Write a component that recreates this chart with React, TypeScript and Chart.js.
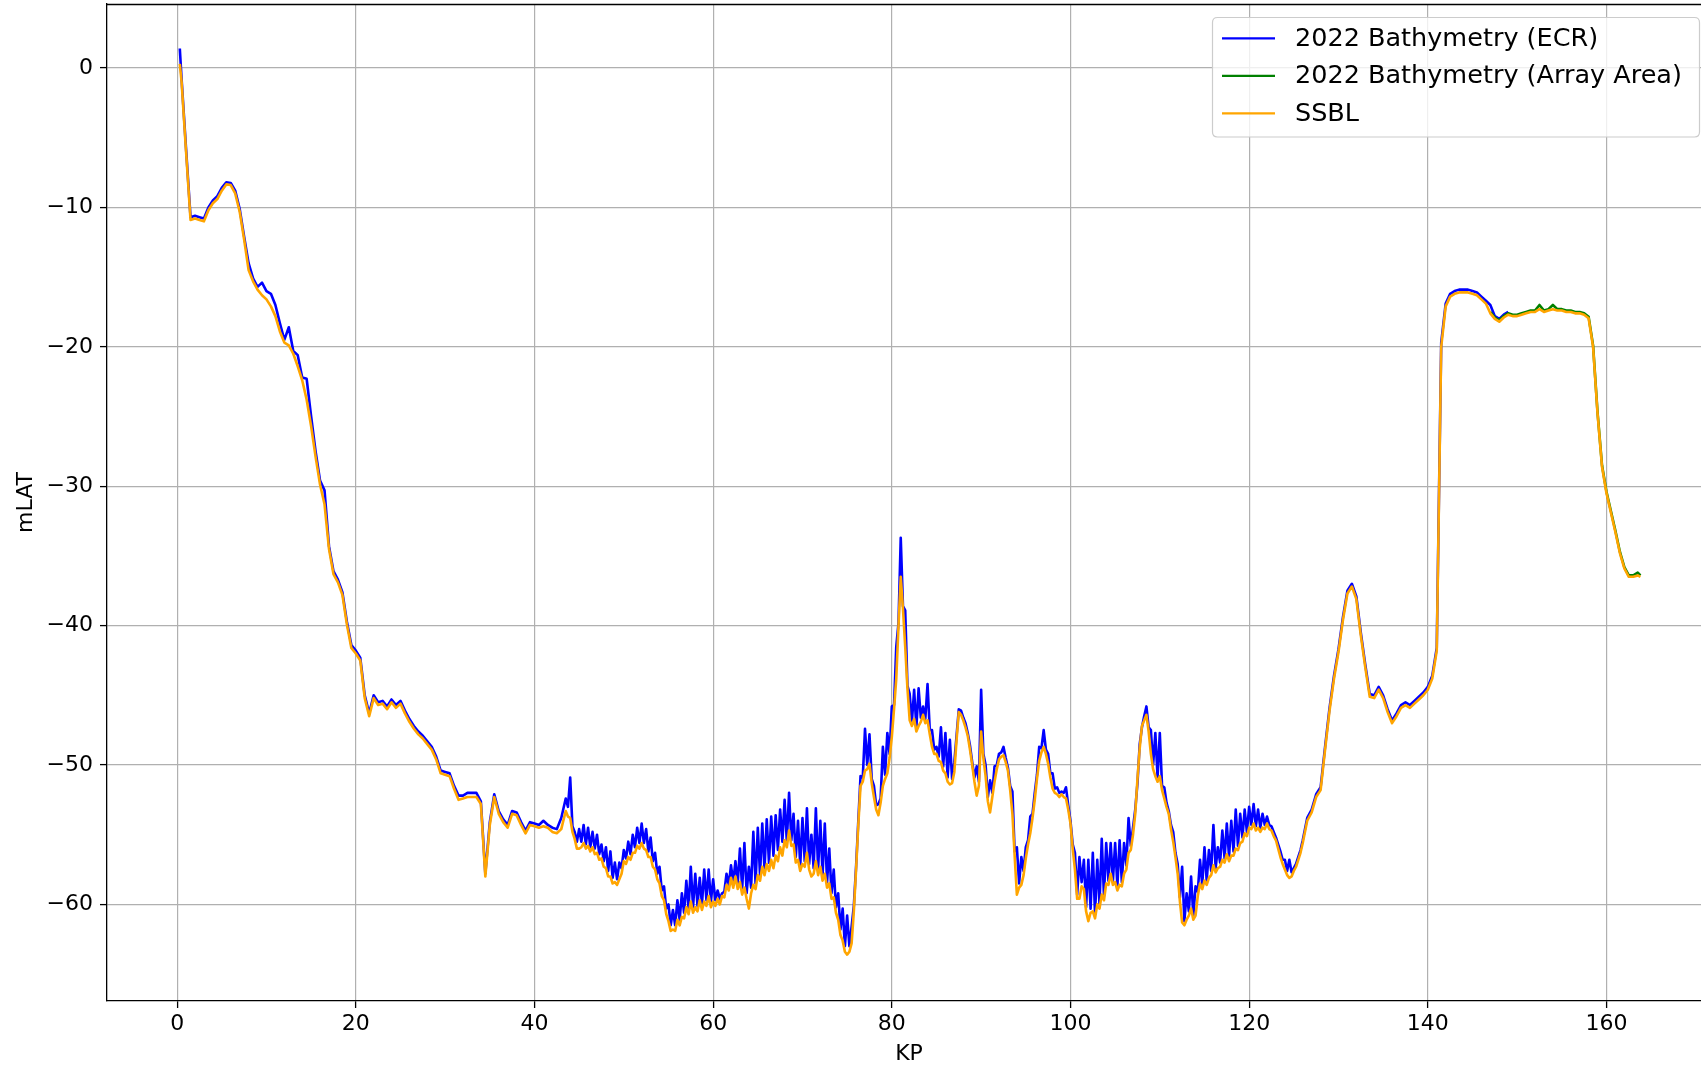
import React, { useEffect, useRef } from "react";
import { Chart, registerables } from "chart.js";

Chart.register(...registerables);

// KP sample positions (km)
const kp = [
  0.3, 0.5, 1, 1.5, 2, 2.5, 3, 3.5, 4, 4.5, 5,
  5.5, 6, 6.5, 7, 7.5, 8, 8.5, 9, 9.5, 10,
  10.5, 11, 11.5, 12, 12.5, 13, 13.5, 14, 14.5, 15,
  15.5, 16, 16.5, 17, 17.5, 18, 18.5, 19, 19.5, 20,
  20.5, 21, 21.5, 22, 22.5, 23, 23.5, 24, 24.5, 25,
  25.5, 26, 26.5, 27, 27.5, 28, 28.5, 29, 29.5, 30,
  30.5, 31, 31.5, 32, 32.5, 33, 33.5, 34, 34.5, 35,
  35.5, 36, 36.5, 37, 37.5, 38, 38.5, 39, 39.5, 40,
  40.5, 41, 41.5, 42, 42.5, 43, 43.5,
  43.75, 44,
  44.25, 44.5, 44.75, 45, 45.25, 45.5, 45.75, 46,
  46.25, 46.5, 46.75, 47, 47.25, 47.5, 47.75, 48,
  48.25, 48.5, 48.75, 49, 49.25, 49.5, 49.75, 50,
  50.25, 50.5, 50.75, 51, 51.25, 51.5, 51.75, 52,
  52.25, 52.5, 52.75, 53, 53.25, 53.5, 53.75, 54,
  54.25, 54.5, 54.75, 55, 55.25, 55.5, 55.75, 56,
  56.25, 56.5, 56.75, 57, 57.25, 57.5, 57.75, 58,
  58.25, 58.5, 58.75, 59, 59.25, 59.5, 59.75, 60,
  60.25, 60.5, 60.75, 61, 61.25, 61.5, 61.75, 62,
  62.25, 62.5, 62.75, 63, 63.25, 63.5, 63.75, 64,
  64.25, 64.5, 64.75, 65, 65.25, 65.5, 65.75, 66,
  66.25, 66.5, 66.75, 67, 67.25, 67.5, 67.75, 68,
  68.25, 68.5, 68.75, 69, 69.25, 69.5, 69.75, 70,
  70.25, 70.5, 70.75, 71, 71.25, 71.5, 71.75, 72,
  72.25, 72.5, 72.75, 73, 73.25, 73.5, 73.75, 74,
  74.25, 74.5, 74.75, 75, 75.25, 75.5, 75.75, 76,
  76.25, 76.5, 76.75, 77, 77.25, 77.5, 77.75, 78,
  78.25, 78.5, 78.75, 79, 79.25, 79.5, 79.75, 80,
  80.25, 80.5, 80.75, 81, 81.25, 81.5, 81.75, 82,
  82.25, 82.5, 82.75, 83, 83.25, 83.5, 83.75, 84,
  84.25, 84.5, 84.75, 85, 85.25, 85.5, 85.75, 86,
  86.25, 86.5, 86.75, 87, 87.25, 87.5, 87.75, 88,
  88.25, 88.5, 88.75, 89, 89.25, 89.5, 89.75, 90,
  90.25, 90.5, 90.75, 91, 91.25, 91.5, 91.75, 92,
  92.25, 92.5, 92.75, 93, 93.25, 93.5, 93.75, 94,
  94.25, 94.5, 94.75, 95, 95.25, 95.5, 95.75, 96,
  96.25, 96.5, 96.75, 97, 97.25, 97.5, 97.75, 98,
  98.25, 98.5, 98.75, 99, 99.25, 99.5, 99.75, 100,
  100.25, 100.5, 100.75, 101, 101.25, 101.5, 101.75, 102,
  102.25, 102.5, 102.75, 103, 103.25, 103.5, 103.75, 104,
  104.25, 104.5, 104.75, 105, 105.25, 105.5, 105.75, 106,
  106.25, 106.5, 106.75, 107, 107.25, 107.5, 107.75, 108,
  108.25, 108.5, 108.75, 109, 109.25, 109.5, 109.75, 110,
  110.25, 110.5, 110.75, 111, 111.25, 111.5, 111.75, 112,
  112.25, 112.5, 112.75, 113, 113.25, 113.5, 113.75, 114,
  114.25, 114.5, 114.75, 115, 115.25, 115.5, 115.75, 116,
  116.25, 116.5, 116.75, 117, 117.25, 117.5, 117.75, 118,
  118.25, 118.5, 118.75, 119, 119.25, 119.5, 119.75, 120,
  120.25, 120.5, 120.75, 121, 121.25, 121.5, 121.75, 122,
  122.25, 122.5, 122.75, 123, 123.25, 123.5, 123.75, 124,
  124.25, 124.5, 124.75, 125, 125.25, 125.5, 125.75, 126,
  126.5, 127, 127.5, 128, 128.5, 129, 129.5, 130,
  130.5, 131, 131.5, 132, 132.5, 133, 133.5, 134, 134.5, 135,
  135.5, 136, 136.5, 137, 137.5, 138, 138.5, 139, 139.5, 140,
  140.5, 141, 141.5, 142, 142.5, 143, 143.5, 144, 144.5, 145,
  145.5, 146, 146.5, 147, 147.5, 148, 148.5, 149, 149.5, 150,
  150.5, 151, 151.5, 152, 152.5, 153, 153.5, 154, 154.5, 155,
  155.5, 156, 156.5, 157, 157.5, 158, 158.5, 159, 159.5, 160,
  160.5, 161, 161.5, 162, 162.5, 163, 163.5, 163.8,
];

// 2022 Bathymetry (ECR), mLAT, KP 0.3 .. 149
const ecr = [
  1.4, -0.8, -5.8, -10.7, -10.6, -10.7, -10.8, -10.0, -9.5, -9.2, -8.6,
  -8.2, -8.25, -8.8, -10.1, -12.1, -14.0, -15.1, -15.7, -15.4, -16.0,
  -16.2, -17.0, -18.3, -19.5, -18.6, -20.3, -20.6, -22.2, -22.3, -25.0,
  -27.5, -29.6, -30.3, -34.3, -36.1, -36.7, -37.6, -39.7, -41.4, -41.8,
  -42.3, -45.0, -46.3, -45.0, -45.5, -45.4, -45.8, -45.3, -45.7, -45.4,
  -46.1, -46.7, -47.2, -47.6, -47.9, -48.3, -48.7, -49.4, -50.4, -50.5,
  -50.6, -51.5, -52.2, -52.2, -52.0, -52.0, -52.0, -52.6, -57.8, -54.1,
  -52.1, -53.3, -53.9, -54.3, -53.3, -53.4, -54.1, -54.7, -54.1, -54.2,
  -54.3, -54.0, -54.3, -54.5, -54.6, -53.8, -52.4,
  -53.0, -50.9,
  -54.4, -54.8, -55.5, -54.6, -55.5, -54.3, -55.7, -54.5,
  -55.9, -54.8, -56.0, -55.0, -56.4, -55.7, -56.9, -55.9,
  -57.6, -56.2, -58.1, -57.0, -58.2, -57.0, -57.4, -56.1,
  -56.7, -55.5, -56.4, -55.0, -55.9, -54.5, -55.6, -54.2,
  -55.6, -54.6, -56.2, -55.2, -56.9, -56.3, -57.8, -57.3,
  -59.0, -58.7, -60.3, -60.0, -61.5, -60.4, -61.5, -59.7,
  -61.1, -59.2, -60.6, -58.3, -60.3, -57.3, -60.2, -57.8,
  -60.1, -58.1, -60.0, -57.5, -59.7, -57.5, -59.8, -58.2,
  -59.7, -59.0, -59.6, -59.2, -59.1, -57.8, -58.6, -57.2,
  -58.4, -56.9, -58.5, -56.0, -58.9, -55.6, -59.2, -57.3,
  -58.8, -54.8, -58.5, -54.5, -57.9, -54.2, -57.5, -53.9,
  -57.0, -53.7, -56.5, -53.6, -56.1, -53.2, -55.5, -52.5,
  -55.5, -52.0, -55.4, -53.5, -56.6, -54.0, -57.2, -53.8,
  -56.9, -53.1, -57.1, -55.0, -57.4, -53.1, -57.5, -54.0,
  -57.9, -54.2, -58.4, -56.0, -59.2, -57.5, -60.2, -59.2,
  -61.8, -60.3, -63.0, -60.8, -63.0, -61.6, -60.1, -57.3,
  -54.0, -50.8, -50.9, -47.4, -50.0, -47.8, -51.0, -51.5,
  -52.9, -52.8, -52.4, -48.7, -50.7, -47.7, -49.2, -45.8,
  -45.7, -41.5, -39.8, -33.7, -38.6, -38.9, -44.3, -44.9,
  -46.9, -44.6, -47.3, -44.5, -46.6, -45.8, -46.7, -44.2,
  -47.5, -47.5, -48.9, -48.7, -49.4, -47.3, -50.1, -47.7,
  -50.9, -48.2, -51.0, -49.8, -47.9, -46.0, -46.1, -46.6,
  -47.0, -47.7, -48.6, -49.8, -50.9, -50.1, -51.2, -44.6,
  -49.2, -50.0, -52.3, -51.1, -52.0, -50.1, -50.0, -49.2,
  -49.1, -48.7, -49.5, -50.2, -51.5, -51.9, -56.2, -55.9,
  -58.5, -56.6, -57.6, -55.9, -55.4, -53.7, -53.5, -52.0,
  -50.7, -48.7, -48.8, -47.5, -48.9, -49.2, -50.6, -50.6,
  -51.7, -51.6, -52.0, -51.9, -52.0, -51.6, -52.9, -54.0,
  -55.7, -56.3, -59.3, -56.6, -58.4, -56.8, -60.2, -56.8,
  -60.3, -56.3, -60.7, -56.8, -60.0, -55.3, -59.4, -55.6,
  -58.3, -55.6, -58.3, -55.6, -58.7, -55.4, -58.4, -55.6,
  -57.2, -53.8, -55.8, -54.5, -53.2, -51.3, -48.5, -47.3,
  -46.5, -45.8, -47.3, -47.5, -50.0, -47.7, -50.9, -47.7,
  -51.5, -51.6, -52.7, -53.3, -54.3, -54.8, -56.3, -57.1,
  -59.5, -57.3, -61.2, -59.2, -60.5, -58.0, -60.8, -58.7,
  -59.1, -56.8, -58.6, -55.9, -58.3, -56.1, -57.6, -54.3,
  -57.4, -55.9, -57.0, -54.7, -56.7, -54.2, -56.6, -54.0,
  -56.2, -53.2, -55.8, -53.5, -55.2, -53.2, -54.8, -53.0,
  -54.3, -52.8, -54.4, -53.2, -54.5, -53.5, -54.3, -53.7,
  -54.3, -54.4, -54.8, -55.2, -55.7, -56.2, -56.8, -56.8,
  -57.6, -56.8, -57.7, -57.4, -57.1, -56.6, -56.1, -55.4,
  -53.8, -53.2, -52.1, -51.6, -48.7, -45.9, -43.6, -41.7,
  -39.4, -37.5, -37.0, -37.9, -40.5, -42.8, -44.9, -45.0, -44.4, -45.0,
  -46.0, -46.8, -46.3, -45.7, -45.5, -45.7, -45.4, -45.1, -44.8, -44.4,
  -43.6, -41.6, -19.7, -16.9, -16.2, -16.0, -15.9, -15.9, -15.9, -16.0,
  -16.1, -16.4, -16.7, -17.0, -17.8, -18.0, -17.7, -17.5,
];

// 2022 Bathymetry (Array Area), mLAT, KP 147 .. 163.8
const arrayStartKp = 147;
const arrayArea = [
  -17.5, -17.9, -18.1, -17.8, -17.6, -17.7, -17.7,
  -17.6, -17.5, -17.4, -17.4, -17.0, -17.4, -17.3, -17.0, -17.3, -17.3,
  -17.4, -17.4, -17.5, -17.5, -17.6, -17.85, -19.9, -24.7, -28.5, -30.4,
  -31.8, -33.2, -34.7, -35.8, -36.4, -36.4, -36.2, -36.4,
];

// SSBL, mLAT, KP 0.3 .. 163.8
const ssbl = [
  0.3, -1.0, -6.0, -10.9, -10.8, -10.9, -11.0, -10.2, -9.7, -9.4, -8.8,
  -8.35, -8.4, -9.0, -10.3, -12.3, -14.5, -15.3, -15.9, -16.3, -16.6,
  -17.1, -17.8, -18.9, -19.7, -19.9, -20.5, -21.4, -22.4, -23.8, -25.7,
  -27.9, -29.9, -31.3, -34.5, -36.3, -36.9, -37.8, -39.9, -41.6, -42.0,
  -42.5, -45.2, -46.5, -45.2, -45.7, -45.6, -46.0, -45.5, -45.9, -45.6,
  -46.3, -46.9, -47.4, -47.8, -48.1, -48.5, -48.9, -49.6, -50.6, -50.7,
  -50.8, -51.7, -52.5, -52.4, -52.3, -52.3, -52.3, -52.8, -58.0, -54.3,
  -52.3, -53.5, -54.1, -54.5, -53.5, -53.6, -54.3, -54.9, -54.3, -54.4,
  -54.5, -54.4, -54.5, -54.8, -54.9, -54.6, -53.3,
  -53.7, -53.8,
  -54.8, -55.3, -56.0, -56.0, -55.9, -55.6, -56.0, -55.8,
  -56.2, -55.9, -56.4, -56.3, -56.8, -56.7, -57.3, -57.4,
  -58.0, -58.0, -58.5, -58.4, -58.6, -58.2, -57.8, -56.9,
  -57.1, -56.6, -56.8, -56.3, -56.3, -55.8, -56.0, -55.6,
  -56.0, -56.1, -56.6, -56.6, -57.3, -57.5, -58.2, -58.5,
  -59.4, -59.7, -60.7, -61.2, -61.9, -61.8, -61.9, -61.1,
  -61.5, -60.9, -61.0, -60.2, -60.7, -59.8, -60.6, -60.2,
  -60.5, -59.7, -60.4, -59.8, -60.1, -59.4, -60.2, -59.8,
  -60.1, -59.6, -60.0, -59.4, -59.5, -58.6, -59.0, -58.1,
  -58.8, -58.0, -58.9, -58.4, -59.3, -58.8, -59.6, -60.3,
  -59.2, -58.6, -58.9, -57.9, -58.3, -57.3, -57.9, -57.1,
  -57.6, -56.8, -57.4, -56.5, -56.9, -55.9, -56.5, -55.4,
  -55.9, -54.7, -55.8, -55.7, -57.0, -56.8, -57.6, -57.1,
  -57.3, -56.3, -57.5, -58.0, -57.8, -56.9, -57.9, -57.3,
  -58.3, -57.8, -58.8, -58.5, -59.6, -59.5, -60.6, -61.1,
  -62.2, -62.6, -63.4, -63.6, -63.4, -62.8, -60.5, -57.5,
  -54.3, -51.5, -51.2, -50.4, -50.3, -49.9, -51.3, -52.3,
  -53.2, -53.6, -52.7, -51.5, -51.0, -50.6, -49.5, -48.0,
  -46.0, -43.8, -40.0, -36.5, -38.8, -41.5, -44.5, -46.8,
  -47.2, -46.7, -47.6, -47.2, -46.9, -46.4, -47.0, -46.8,
  -47.8, -48.7, -49.2, -49.2, -49.7, -49.8, -50.4, -50.6,
  -51.2, -51.4, -51.3, -50.5, -48.2, -46.2, -46.4, -46.8,
  -47.3, -47.9, -48.9, -50.0, -51.2, -52.2, -51.5, -47.6,
  -49.5, -50.8, -52.6, -53.4, -52.3, -51.2, -50.3, -49.6,
  -49.4, -49.3, -49.8, -50.4, -51.8, -53.5, -56.5, -59.3,
  -58.8, -58.6, -57.9, -56.7, -55.7, -54.9, -53.8, -52.5,
  -51.0, -49.7, -49.1, -48.7, -49.2, -49.9, -50.9, -51.7,
  -52.0, -52.1, -52.3, -52.1, -52.3, -52.4, -53.2, -54.2,
  -56.0, -57.5, -59.6, -59.6, -58.7, -58.9, -60.5, -61.2,
  -60.6, -60.5, -61.0, -60.0, -60.3, -59.3, -59.7, -58.5,
  -58.6, -57.8, -58.6, -58.4, -59.0, -58.6, -58.7, -57.8,
  -57.5, -56.3, -56.1, -55.0, -53.5, -51.0, -48.8, -47.2,
  -46.8, -46.4, -47.6, -49.2, -50.3, -50.8, -51.2, -50.8,
  -51.8, -52.4, -53.0, -53.5, -54.6, -55.5, -56.6, -57.8,
  -59.8, -61.3, -61.5, -61.1, -60.8, -60.3, -61.1, -60.8,
  -59.4, -58.5, -58.9, -58.3, -58.6, -58.1, -57.9, -57.2,
  -57.7, -57.4, -57.3, -56.8, -57.0, -56.4, -56.9, -56.5,
  -56.5, -56.0, -56.1, -55.6, -55.5, -54.9, -55.1, -54.5,
  -54.6, -54.2, -54.7, -54.5, -54.8, -54.5, -54.6, -54.2,
  -54.6, -54.7, -55.1, -55.4, -56.0, -56.6, -57.1, -57.5,
  -57.9, -58.1, -58.0, -57.6, -57.3, -56.8, -56.3, -55.6,
  -54.0, -53.4, -52.3, -51.8, -48.9, -46.1, -43.8, -41.9,
  -39.6, -37.7, -37.2, -38.1, -40.7, -43.0, -45.1, -45.2, -44.6, -45.2,
  -46.2, -47.0, -46.5, -45.9, -45.7, -45.9, -45.6, -45.3, -45.0, -44.6,
  -43.8, -41.8, -20.0, -17.1, -16.4, -16.2, -16.1, -16.1, -16.1, -16.2,
  -16.3, -16.6, -16.9, -17.6, -18.0, -18.2, -17.9, -17.7, -17.8, -17.8,
  -17.7, -17.6, -17.5, -17.5, -17.3, -17.5, -17.4, -17.3, -17.4, -17.4,
  -17.5, -17.5, -17.6, -17.6, -17.7, -17.95, -20.0, -24.8, -28.6, -30.5,
  -31.9, -33.3, -34.8, -35.9, -36.5, -36.5, -36.4, -36.5,
];

const seriesLabels = ["2022 Bathymetry (ECR)", "2022 Bathymetry (Array Area)", "SSBL"];
const seriesColors = ["#0000ff", "#008000", "#ffa500"];

const xTicks = [0, 20, 40, 60, 80, 100, 120, 140, 160];
const yTicks = [-60, -50, -40, -30, -20, -10, 0];
const xLabel = "KP";
const yLabel = "mLAT";

const FONT = "'DejaVu Sans', sans-serif";
const LINE_W = 2.6;

const frameAndLegend = {
  id: "frameAndLegend",
  afterDatasetsDraw(chart: any) {
    const { ctx, chartArea } = chart;
    ctx.save();
    ctx.strokeStyle = "#000";
    ctx.lineWidth = 1.3;
    ctx.beginPath();
    ctx.moveTo(chartArea.left, chartArea.top + 0.5);
    ctx.lineTo(chartArea.right, chartArea.top + 0.5);
    ctx.moveTo(chartArea.right - 0.5, chartArea.top);
    ctx.lineTo(chartArea.right - 0.5, chartArea.bottom);
    ctx.stroke();
    ctx.restore();
  },
  afterDraw(chart: any) {
    const { ctx } = chart;
    const ds = chart.data.datasets;
    const x0 = 1212.5, y0 = 17.5, w = 487, h = 119.5, r = 5;
    ctx.save();
    ctx.beginPath();
    ctx.moveTo(x0 + r, y0);
    ctx.lineTo(x0 + w - r, y0);
    ctx.quadraticCurveTo(x0 + w, y0, x0 + w, y0 + r);
    ctx.lineTo(x0 + w, y0 + h - r);
    ctx.quadraticCurveTo(x0 + w, y0 + h, x0 + w - r, y0 + h);
    ctx.lineTo(x0 + r, y0 + h);
    ctx.quadraticCurveTo(x0, y0 + h, x0, y0 + h - r);
    ctx.lineTo(x0, y0 + r);
    ctx.quadraticCurveTo(x0, y0, x0 + r, y0);
    ctx.closePath();
    ctx.fillStyle = "rgba(255,255,255,0.8)";
    ctx.fill();
    ctx.strokeStyle = "#cccccc";
    ctx.lineWidth = 1.2;
    ctx.stroke();
    const rows = [38.3, 75.8, 113.3];
    ctx.font = `25.5px ${FONT}`;
    ctx.textBaseline = "middle";
    ctx.textAlign = "left";
    ds.forEach((d: any, i: number) => {
      const y = rows[i];
      ctx.strokeStyle = d.borderColor;
      ctx.lineWidth = 2.2;
      ctx.beginPath();
      ctx.moveTo(1222, y);
      ctx.lineTo(1275, y);
      ctx.stroke();
      ctx.fillStyle = "#000";
      ctx.fillText(d.label, 1295, y + 1);
    });
    ctx.restore();
  },
};

export default function App() {
  const ref = useRef<HTMLCanvasElement>(null);
  useEffect(() => {
    const ecrPts = ecr.map((v, i) => ({ x: kp[i], y: v }));
    const start = kp.indexOf(arrayStartKp);
    const arrPts = arrayArea.map((v, i) => ({ x: kp[start + i], y: v }));
    const ssblPts = ssbl.map((v, i) => ({ x: kp[i], y: v }));
    const line = (label: string, color: string, data: any[], order: number) => ({
      label,
      data,
      borderColor: color,
      backgroundColor: color,
      borderWidth: LINE_W,
      pointRadius: 0,
      pointHoverRadius: 0,
      tension: 0,
      fill: false,
      borderJoinStyle: "round" as const,
      order,
    });
    const chart = new Chart(ref.current as HTMLCanvasElement, {
      type: "line",
      data: {
        datasets: [
          line(seriesLabels[0], seriesColors[0], ecrPts, 2),
          line(seriesLabels[1], seriesColors[1], arrPts, 1),
          line(seriesLabels[2], seriesColors[2], ssblPts, 0),
        ],
      },
      options: {
        responsive: false,
        animation: false,
        parsing: false as any,
        normalized: true,
        layout: { padding: { top: 4, right: 1, bottom: 0, left: 0 } },
        plugins: {
          legend: { display: false },
          tooltip: { enabled: false },
        },
        scales: {
          x: {
            type: "linear",
            min: -7.85,
            max: 171.7,
            afterBuildTicks: (s: any) => {
              s.ticks = xTicks.map((v) => ({ value: v }));
            },
            afterFit: (s: any) => {
              s.height = 68;
              s.paddingLeft = 0;
              s.paddingRight = 0;
            },
            grid: {
              color: "#b0b0b0",
              lineWidth: 1.2,
              drawTicks: true,
              tickLength: 7,
              tickColor: "#000",
              tickWidth: 1.3,
            },
            border: { display: true, color: "#000", width: 1.3 },
            ticks: {
              color: "#000",
              font: { family: FONT, size: 22 },
              padding: 3,
              maxRotation: 0,
              autoSkip: false,
              callback: (v: any) => String(v),
            },
            title: {
              display: true,
              text: xLabel,
              color: "#000",
              font: { family: FONT, size: 22 },
              padding: { top: 0, bottom: 2 },
            },
          },
          y: {
            type: "linear",
            min: -66.93,
            max: 4.59,
            afterBuildTicks: (s: any) => {
              s.ticks = yTicks.map((v) => ({ value: v }));
            },
            afterFit: (s: any) => {
              s.width = 107;
              s.paddingTop = 0;
              s.paddingBottom = 0;
            },
            grid: {
              color: "#b0b0b0",
              lineWidth: 1.2,
              drawTicks: true,
              tickLength: 7,
              tickColor: "#000",
              tickWidth: 1.3,
            },
            border: { display: true, color: "#000", width: 1.3 },
            ticks: {
              color: "#000",
              font: { family: FONT, size: 22 },
              padding: 7,
              autoSkip: false,
              callback: (v: any) => (v < 0 ? "\u2212" + Math.abs(v) : String(v)),
            },
            title: {
              display: true,
              text: yLabel,
              color: "#000",
              font: { family: FONT, size: 22 },
              padding: { top: 13, bottom: 0 },
            },
          },
        },
      },
      plugins: [frameAndLegend],
    });
    return () => chart.destroy();
  }, []);
  return (
    <div
      style={{
        position: "absolute",
        left: 0,
        top: 0,
        width: 1701,
        height: 1069,
        overflow: "hidden",
        background: "#fff",
      }}
    >
      <canvas ref={ref} width={1712} height={1069} style={{ display: "block", width: 1712, height: 1069 }} />
    </div>
  );
}
